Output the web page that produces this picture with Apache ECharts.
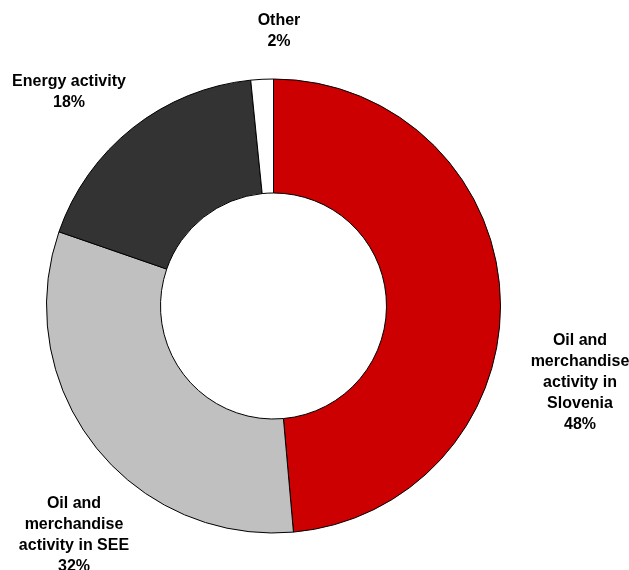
<!DOCTYPE html>
<html>
<head>
<meta charset="utf-8">
<script src="https://cdn.jsdelivr.net/npm/echarts@6/dist/echarts.min.js"></script>
<style>
html,body{margin:0;padding:0;background:#fff;}
#chart{width:629px;height:570px;}
</style>
</head>
<body>
<div id="chart"></div>
<script>
// Data
var categories = [
  'Oil and\nmerchandise\nactivity in\nSlovenia',
  'Oil and\nmerchandise\nactivity in SEE',
  'Energy activity',
  'Other'
];
var values = [48.6, 31.7, 18.1, 1.6];
var shownPercents = ['48%', '32%', '18%', '2%'];
var colors = ['#CC0000', '#C0C0C0', '#333333', '#FFFFFF'];

// label anchor positions (layout, not data)
var labelPos = [[580, 383], [74, 535], [69, 92.5], [279, 31]];

var chart = echarts.init(document.getElementById('chart'), null, {renderer: 'canvas'});
var data = categories.map(function (c, i) {
  return { name: c, value: values[i], itemStyle: { color: colors[i] } };
});

chart.setOption({
  animation: false,
  backgroundColor: '#ffffff',
  series: [{
    type: 'pie',
    center: [273.5, 306],
    radius: [113, 227],
    startAngle: 90,
    clockwise: true,
    avoidLabelOverlap: false,
    data: data,
    itemStyle: { borderColor: '#000000', borderWidth: 1 },
    emphasis: { disabled: true },
    label: {
      show: true,
      position: 'outside',
      color: '#000000',
      fontFamily: '"Liberation Sans", Arial, sans-serif',
      fontWeight: 'bold',
      fontSize: 16,
      lineHeight: 21,
      align: 'center',
      formatter: function (p) {
        return p.name + '\n' + shownPercents[p.dataIndex];
      }
    },
    labelLine: { show: false },
    labelLayout: function (params) {
      var pos = labelPos[params.dataIndex];
      return { x: pos[0], y: pos[1], align: 'center', verticalAlign: 'middle', hideOverlap: false };
    }
  }]
});
</script>
</body>
</html>
